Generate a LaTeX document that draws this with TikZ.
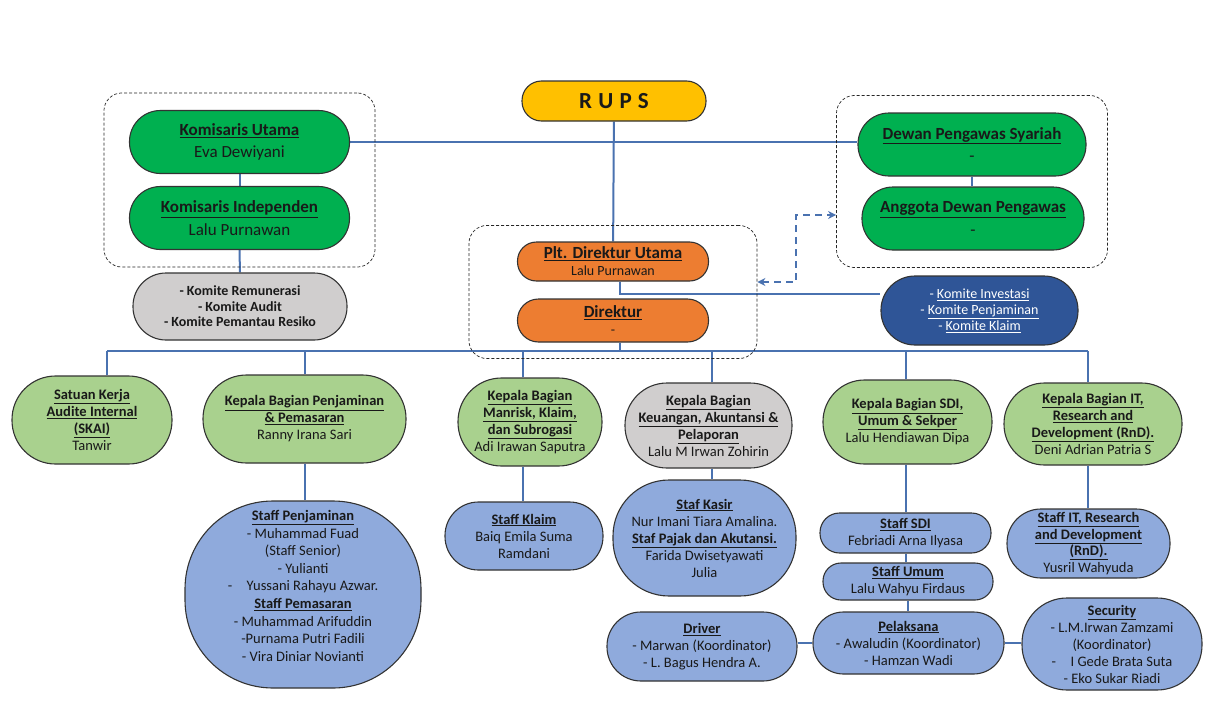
\documentclass[tikz,border=0pt]{standalone}
\usepackage{fontspec}
\setmainfont{Carlito}
\usetikzlibrary{positioning,fit,backgrounds,arrows.meta}
\definecolor{kgreen}{HTML}{00B050}
\definecolor{lgreen}{HTML}{A9D18E}
\definecolor{lgray}{HTML}{D0CECE}
\definecolor{lblue}{HTML}{8FAADC}
\definecolor{dblue}{HTML}{2F5597}
\definecolor{korange}{HTML}{ED7D31}
\definecolor{kyellow}{HTML}{FFC000}
\definecolor{linkblue}{HTML}{4A72B0}
\newcommand{\hd}[1]{\underline{\textbf{#1}}}
\newcommand{\topfont}{\fontsize{17}{22.5}\selectfont}
\newcommand{\dirfont}{\fontsize{17}{19}\selectfont}
\newcommand{\midfont}{\fontsize{14.5}{17}\selectfont}
\newcommand{\smfont}{\fontsize{14}{15.5}\selectfont}

\begin{document}
\begin{tikzpicture}[x=1pt,y=-1pt,
  unit/.style={draw=black!80,line width=1.1pt,align=center,inner sep=1pt,text=black!90,font=\midfont},
  topunit/.style={unit,fill=kgreen,minimum width=220pt,minimum height=63pt,rounded corners=31pt,font=\topfont},
  dirunit/.style={unit,fill=korange,minimum width=191pt,rounded corners=19pt,font=\fontsize{14}{17}\selectfont},
  kabag/.style={unit,fill=lgreen},
  staff/.style={unit,fill=lblue},
  link/.style={draw=linkblue,line width=2pt},
  dlink/.style={draw=linkblue,line width=1.8pt,dash pattern=on 7pt off 5pt,{Stealth[length=8pt,width=8pt]}-{Stealth[length=8pt,width=8pt]}},
  grp/.style={draw=black!85,densely dashed,line width=0.7pt,rounded corners=18pt}]
\useasboundingbox (0,0) rectangle (1207,720);

\node[unit,fill=kyellow,minimum width=184pt,minimum height=40pt,rounded corners=19.5pt,font=\fontsize{23}{26}\selectfont\bfseries] (rups) at (614,101) {R\hspace{1pt} U\hspace{1pt} P\hspace{1pt} S};

\node[topunit] (kutama) at (239.5,142) {\hd{Komisaris Utama}\\Eva Dewiyani};
\node[topunit] (kindep) at (239.5,218) {\hd{Komisaris Independen}\\Lalu Purnawan};
\node[unit,fill=lgray,minimum width=214pt,minimum height=67pt,rounded corners=33pt,font=\smfont\bfseries] (kom1) at (240,306.5) {- Komite Remunerasi\\- Komite Audit\\- Komite Pemantau Resiko};

\node[topunit,minimum width=228pt] (dps) at (972,144.5) {\hd{Dewan Pengawas Syariah}\\-};
\node[topunit,minimum width=222pt] (adp) at (973,218.5) {\hd{Anggota Dewan Pengawas}\\-};

\node[dirunit,minimum height=39pt] (dirut) at (613,261.5) {{\dirfont\hd{Plt. Direktur Utama}}\\Lalu Purnawan};
\node[dirunit,minimum height=43pt,rounded corners=21pt] (dir) at (613,320.5) {{\dirfont\hd{Direktur}}\\-};

\node[unit,fill=dblue,text=white,minimum width=197pt,minimum height=69pt,rounded corners=34pt,font=\fontsize{14}{16}\selectfont] (kinv) at (979.5,310.5) {- \underline{Komite Investasi}\\- \underline{Komite Penjaminan}\\- \underline{Komite Klaim}};

\node[grp,fit=(kutama)(kindep),inner xsep=25pt,inner ysep=17pt] (grpkom) {};
\node[grp,fit=(dirut)(dir),inner xsep=48pt,inner ysep=16pt] (grpdir) {};
\node[grp,fit=(dps)(adp),inner xsep=21pt,inner ysep=17pt] (grpdps) {};

\node[kabag,minimum width=160pt,minimum height=88pt,rounded corners=43.5pt] (skai) at (92,420) {\hd{Satuan Kerja}\\\hd{Audite Internal}\\\hd{(SKAI)}\\Tanwir};
\node[kabag,minimum width=203pt,minimum height=88pt,rounded corners=43.5pt] (kbp) at (304.5,419) {\hd{Kepala Bagian Penjaminan}\\\hd{\& Pemasaran}\\Ranny Irana Sari};
\node[kabag,minimum width=144pt,minimum height=88pt,rounded corners=43.5pt] (kbm) at (530,422) {\hd{Kepala Bagian}\\\hd{Manrisk, Klaim,}\\\hd{dan Subrogasi}\\Adi Irawan Saputra};
\node[kabag,fill=lgray,minimum width=167pt,minimum height=85pt,rounded corners=42pt] (kbk) at (708.5,425.5) {\hd{Kepala Bagian}\\\hd{Keuangan, Akuntansi \&}\\\hd{Pelaporan}\\Lalu M Irwan Zohirin};
\node[kabag,minimum width=169pt,minimum height=84pt,rounded corners=41.5pt] (ksdi) at (907.5,422) {\hd{Kepala Bagian SDI,}\\\hd{Umum \& Sekper}\\Lalu Hendiawan Dipa};
\node[kabag,minimum width=178pt,minimum height=82pt,rounded corners=40.5pt] (kit) at (1093,424) {\hd{Kepala Bagian IT,}\\\hd{Research and}\\\hd{Development (RnD).}\\Deni Adrian Patria S};

\node[staff,minimum width=236pt,minimum height=187pt,rounded corners=88pt,font=\fontsize{14.5}{17.6}\selectfont] (sp) at (303,594.5) {\hd{Staff Penjaminan}\\- Muhammad Fuad\\(Staff Senior)\\- Yulianti\\-\quad Yussani Rahayu Azwar.\\\hd{Staff Pemasaran}\\- Muhammad Arifuddin\\-Purnama Putri Fadili\\- Vira Diniar Novianti\\\mbox{}};
\node[staff,minimum width=158pt,minimum height=68pt,rounded corners=33.5pt] (sklaim) at (524,536) {\hd{Staff Klaim}\\Baiq Emila Suma\\Ramdani};
\node[staff,minimum width=183pt,minimum height=116pt,rounded corners=56pt] (skasir) at (704.5,538) {\hd{Staf Kasir}\\Nur Imani Tiara Amalina.\\\hd{Staf Pajak dan Akutansi.}\\Farida Dwisetyawati\\Julia};
\node[staff,minimum width=171pt,minimum height=40pt,rounded corners=19.5pt] (ssdi) at (905.5,533) {\hd{Staff SDI}\\Febriadi Arna Ilyasa};
\node[staff,minimum width=170pt,minimum height=37pt,rounded corners=18pt] (sumum) at (908,581.5) {\hd{Staff Umum}\\Lalu Wahyu Firdaus};
\node[staff,minimum width=163pt,minimum height=69pt,rounded corners=34pt,font=\fontsize{14.5}{16.5}\selectfont] (sit) at (1088.5,543.5) {\hd{Staff IT, Research}\\\hd{and Development}\\\hd{(RnD).}\\Yusril Wahyuda};
\node[staff,minimum width=190pt,minimum height=69pt,rounded corners=34pt] (drv) at (702,646.5) {\hd{Driver}\\- Marwan (Koordinator)\\- L. Bagus Hendra A.};
\node[staff,minimum width=191pt,minimum height=62pt,rounded corners=30.5pt] (pel) at (908.5,643) {\hd{Pelaksana}\\- Awaludin (Koordinator)\\- Hamzan Wadi};
\node[staff,minimum width=180pt,minimum height=92pt,rounded corners=45pt] (sec) at (1112,644) {\hd{Security}\\- L.M.Irwan Zamzami\\(Koordinator)\\-\quad I Gede Brata Suta\\- Eko Sukar Riadi};

\coordinate (barL) at (107,351);
\coordinate (barR) at (1088,351);

\begin{scope}[on background layer]
\draw[link] (rups) -- (dirut);
\draw[link] (kutama.east) -- (kutama.east -| dps.west);
\draw[link] (kutama) -- (kindep);
\draw[link] (kindep) -- (kom1);
\draw[link] (dps.south) -- (dps.south |- adp.north);
\draw[link] ([xshift=7pt]dirut.south) |- ([yshift=17pt]kinv.west);
\draw[link] ([xshift=7pt]dir.south) -- ([xshift=7pt]dir.south |- barL);
\draw[link] (barL) -- (barR);
\foreach \n/\d in {skai/15,kbp/0,kbm/-7,kbk/3.5,ksdi/-1.5,kit/-5}
  \draw[link] ([xshift=\d pt]\n.north) -- ([xshift=\d pt]\n.north |- barL);
\draw[link] (kbp.south) -- (kbp.south |- sp.north);
\draw[link] ([xshift=-7pt]kbm.south) -- ([xshift=-7pt]kbm.south |- sklaim.north);
\draw[link] ([xshift=3.5pt]kbk.south) -- ([xshift=3.5pt]kbk.south |- skasir.north);
\draw[link] ([xshift=-1.5pt]ksdi.south) -- ([xshift=-1.5pt]ksdi.south |- ssdi.north);
\draw[link] (ssdi) -- (ssdi |- sumum.north);
\draw[link] (sumum.south) -- (sumum.south |- pel.north);
\draw[link] ([xshift=-5pt]kit.south) -- ([xshift=-5pt]kit.south |- sit.north);
\draw[link] (pel.west) -- (pel.west -| drv.east);
\draw[link] (pel.east) -- (pel.east -| sec.west);
\end{scope}

\draw[dlink] (grpdir.east |- 0,282) -| (796,215) -- (grpdps.west |- 0,215);
\end{tikzpicture}
\end{document}
